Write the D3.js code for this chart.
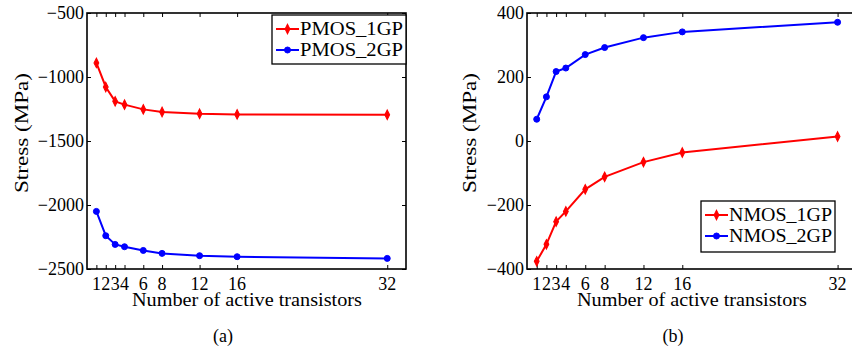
<!DOCTYPE html>
<html>
<head>
<meta charset="utf-8">
<script src="https://cdn.jsdelivr.net/npm/d3@7"></script>
<style>
  html, body { margin: 0; padding: 0; background: #fff; }
  svg { display: block; }
</style>
</head>
<body>
<svg id="chart" width="852" height="354"></svg>
<script>
// ---- data ----
const xValues = [1, 2, 3, 4, 6, 8, 12, 16, 32];
const xTickLabels = ["1", "2", "3", "4", "6", "8", "12", "16", "32"];

const pmos1GP = [-890, -1078, -1190, -1216, -1253, -1273, -1287, -1292, -1295];
const pmos2GP = [-2050, -2240, -2308, -2326, -2355, -2378, -2396, -2404, -2417];
const nmos1GP = [-376, -323, -252, -220, -151, -112, -66, -36, 14];
const nmos2GP = [68, 138, 217, 228, 270, 292, 323, 341, 371];

const pmosYTicks = [-500, -1000, -1500, -2000, -2500];
const nmosYTicks = [400, 200, 0, -200, -400];

const FONT = "'Liberation Serif'";
const FS = 18;
const svg = d3.select("#chart");
const RED = "#ff0000", BLUE = "#0000ff";

function fmt(v) { return v < 0 ? "\u2212" + Math.abs(v) : String(v); }

function txt(sel) {
  return sel.attr("font-family", FONT).attr("font-size", FS).attr("fill", "#000");
}

function panel(opt) {
  const g = svg.append("g");
  const x = d3.scaleLinear().domain([0, 34]).range([opt.left, opt.right]);
  const y = d3.scaleLinear().domain(opt.yDomain).range([269, 13]);
  const top = 13, bottom = 269;

  const tickAxes = [
    [d3.axisBottom(x).tickValues(xValues), `translate(0,${bottom})`],
    [d3.axisTop(x).tickValues(xValues), `translate(0,${top})`],
    [d3.axisLeft(y).tickValues(opt.yTicks), `translate(${opt.left},0)`],
    [d3.axisRight(y).tickValues(opt.yTicks), `translate(${opt.right},0)`]
  ];
  tickAxes.forEach(([ax, tr]) => {
    g.append("g").attr("transform", tr)
      .call(ax.tickSize(-4).tickFormat(() => ""))
      .call(s => s.select(".domain").remove())
      .selectAll("line").attr("stroke", "#000").attr("stroke-width", 1);
  });

  // frame
  g.append("rect").attr("x", opt.left).attr("y", top)
    .attr("width", opt.right - opt.left).attr("height", bottom - top)
    .attr("fill", "none").attr("stroke", "#000").attr("stroke-width", 1.6);

  // x tick labels
  g.selectAll(".xl").data(xValues).enter().append("text")
    .attr("x", d => x(d)).attr("y", 290).attr("text-anchor", "middle")
    .call(txt).text((d, i) => xTickLabels[i]);
  // y tick labels
  g.selectAll(".yl").data(opt.yTicks).enter().append("text")
    .attr("x", opt.left - 3).attr("y", d => y(d)).attr("dy", "0.34em")
    .attr("text-anchor", "end").call(txt).text(fmt);

  // axis titles
  g.append("text").attr("x", opt.xLabelX).attr("y", 306).attr("text-anchor", "middle")
    .call(txt).attr("textLength", 230).attr("lengthAdjust", "spacingAndGlyphs")
    .text("Number of active transistors");
  g.append("text").attr("transform", `translate(${opt.yLabelX},133) rotate(-90)`)
    .attr("text-anchor", "middle").call(txt)
    .attr("textLength", 120).attr("lengthAdjust", "spacingAndGlyphs").text("Stress (MPa)");
  g.append("text").attr("x", opt.capX).attr("y", 342).attr("text-anchor", "middle")
    .call(txt).text(opt.caption);

  const line = d3.line().x((d, i) => x(xValues[i])).y(d => y(d));
  const diamond = d3.symbol().type(d3.symbolDiamond).size(20);

  function marker(sel, s, cx, cy) {
    if (s.marker === "d") {
      sel.append("path").attr("d", diamond)
        .attr("transform", `translate(${cx},${cy}) scale(1,1.15)`)
        .attr("fill", s.color).attr("stroke", s.color).attr("stroke-width", 1);
    } else {
      sel.append("circle").attr("cx", cx).attr("cy", cy).attr("r", 3)
        .attr("fill", s.color).attr("stroke", s.color).attr("stroke-width", 1);
    }
  }

  opt.series.forEach(s => {
    g.append("path").datum(s.values).attr("d", line)
      .attr("fill", "none").attr("stroke", s.color).attr("stroke-width", 2);
    const mg = g.append("g");
    s.values.forEach((v, i) => marker(mg, s, x(xValues[i]), y(v)));
  });

  // legend
  const L = opt.legend;
  const lg = g.append("g");
  lg.append("rect").attr("x", L.x).attr("y", L.y).attr("width", L.w).attr("height", L.h)
    .attr("fill", "#fff").attr("stroke", "#000").attr("stroke-width", 1.3);
  opt.series.forEach((s, i) => {
    const ly = L.y + 14 + i * 21;
    lg.append("line").attr("x1", L.x + 4).attr("x2", L.x + 27).attr("y1", ly).attr("y2", ly)
      .attr("stroke", s.color).attr("stroke-width", 2);
    marker(lg, s, L.x + 15.5, ly);
    lg.append("text").attr("x", L.x + 28).attr("y", ly + 6).call(txt)
      .attr("textLength", L.w - 31).attr("lengthAdjust", "spacingAndGlyphs").text(s.name);
  });
}

panel({
  left: 87, right: 406, yDomain: [-2500, -500], yTicks: pmosYTicks,
  xLabelX: 247, yLabelX: 28, capX: 223, caption: "(a)",
  series: [
    { name: "PMOS_1GP", values: pmos1GP, color: RED, marker: "d" },
    { name: "PMOS_2GP", values: pmos2GP, color: BLUE, marker: "o" }
  ],
  legend: { x: 272, y: 15, w: 134, h: 49 }
});

panel({
  left: 527, right: 857, yDomain: [-400, 400], yTicks: nmosYTicks,
  xLabelX: 692, yLabelX: 476, capX: 673, caption: "(b)",
  series: [
    { name: "NMOS_1GP", values: nmos1GP, color: RED, marker: "d" },
    { name: "NMOS_2GP", values: nmos2GP, color: BLUE, marker: "o" }
  ],
  legend: { x: 701, y: 201, w: 134, h: 51 }
});
</script>
</body>
</html>
